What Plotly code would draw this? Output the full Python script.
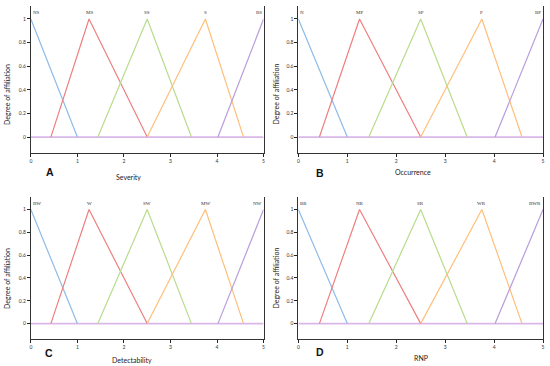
import plotly.graph_objects as go

# ---- data ----
panel_letters = ["A", "B", "C", "D"]
panel_titles = ["Severity", "Occurrence", "Detectability", "RNP"]
term_labels = [
    ["NS", "MS", "SS", "S", "BS"],
    ["N", "MP", "SP", "P", "BP"],
    ["BW", "W", "SW", "MW", "NW"],
    ["BR", "NR", "SR", "WR", "BWR"],
]
term_centers = [0, 1.25, 2.5, 3.75, 5]
# membership function breakpoints (start, peak, end)
mf_blue = [0.0, 0.0, 1.0]
mf_red = [0.43, 1.25, 2.5]
mf_green = [1.44, 2.5, 3.45]
mf_orange = [2.5, 3.75, 4.57]
mf_purple = [4.02, 5.0, 5.0]
mf_all = [mf_blue, mf_red, mf_green, mf_orange, mf_purple]
mf_colors = ["#8fbbe8", "#ef7f7f", "#b8dc8c", "#ffbf7a", "#b89ddb"]
baseline_x = [0, 5]
baseline_y = [0, 0]
x_ticks = [0, 1, 2, 3, 4, 5]
y_ticks = [0, 0.2, 0.4, 0.6, 0.8, 1]
y_tick_text = ["0", "0.2", "0.4", "0.6", "0.8", "1"]

W, H = 550, 366
# panel pixel boxes (left, right, top, bottom)
boxes = [(30, 264, 6, 153), (299, 545, 6, 153), (30, 264, 197, 339), (299, 545, 197, 339)]
ytitle_pos = [(6, 94), (277, 94), (6, 278), (277, 278)]
xtitle_pos = [(128, 177), (414, 172), (132, 360), (422, 358)]
letter_pos = [(49, 172), (321, 173), (48, 353), (321, 352)]

FONT = "Lato, Open Sans, sans-serif"
fig = go.Figure()
annotations = []

for p in range(4):
    l, r, t, b = boxes[p]
    xi = 2 * p + 1
    xb = "x" if xi == 1 else f"x{xi}"
    ya = "y" if p == 0 else f"y{p + 1}"
    fig.add_trace(go.Scatter(x=baseline_x, y=baseline_y, mode="lines", xaxis=xb, yaxis=ya,
                             line=dict(color="#d9b8e8", width=1.8), showlegend=False,
                             hoverinfo="skip"))
    for mf, col in zip(mf_all, mf_colors):
        if mf[1] == mf[0]:
            xs, ys = [mf[1], mf[2]], [1, 0]
        elif mf[1] == mf[2]:
            xs, ys = [mf[0], mf[1]], [0, 1]
        else:
            xs, ys = [mf[0], mf[1], mf[2]], [0, 1, 0]
        fig.add_trace(go.Scatter(x=xs, y=ys, mode="lines", xaxis=xb, yaxis=ya,
                                 line=dict(color=col, width=1.2), showlegend=False,
                                 hoverinfo="skip"))
    dom_x = [l / W, r / W]
    dom_y = [1 - b / H, 1 - t / H]
    bkey = "xaxis" if xi == 1 else f"xaxis{xi}"
    tkey = f"xaxis{xi + 1}"
    ykey = "yaxis" if p == 0 else f"yaxis{p + 1}"
    fig.layout[bkey] = dict(domain=dom_x, anchor=ya, range=[0, 5], tickvals=x_ticks,
                            ticks="outside", ticklen=3, tickcolor="#222", showline=True,
                            linecolor="#333", linewidth=1, showgrid=False, zeroline=False,
                            tickfont=dict(size=5, family=FONT, color="#333"))
    fig.layout[tkey] = dict(domain=dom_x, anchor=ya, overlaying=xb, side="top",
                            range=[0, 5], tickvals=term_centers, ticktext=[""] * 5,
                            ticks="outside", ticklen=3, tickcolor="#444", showline=True,
                            linecolor="#888", linewidth=1.8, showgrid=False, zeroline=False)
    fig.layout[ykey] = dict(domain=dom_y, anchor=xb, range=[-0.135, 1.11],
                            tickvals=y_ticks, ticktext=y_tick_text, ticks="outside",
                            ticklen=3, tickcolor="#222", showline=True, mirror=True,
                            linecolor="#333", linewidth=1, showgrid=False, zeroline=False,
                            tickfont=dict(size=5, family=FONT, color="#333"))
    for k, (lab, c) in enumerate(zip(term_labels[p], term_centers)):
        anchor = "left" if k == 0 else ("right" if k == 4 else "center")
        annotations.append(dict(x=c, y=1, xref=xb, yref=f"{ya} domain", text=lab,
                                showarrow=False, xanchor=anchor, yanchor="top", yshift=-2,
                                font=dict(size=5, family="Liberation Serif, serif", color="#333")))
    tx, ty = ytitle_pos[p]
    annotations.append(dict(x=tx / W, y=1 - ty / H, xref="paper", yref="paper",
                            text="Degree of affiliation", textangle=-90, showarrow=False,
                            xanchor="center", yanchor="middle",
                            font=dict(size=7, family=FONT, color="#222")))
    tx, ty = xtitle_pos[p]
    annotations.append(dict(x=tx / W, y=1 - ty / H, xref="paper", yref="paper",
                            text=panel_titles[p], showarrow=False,
                            xanchor="center", yanchor="middle",
                            font=dict(size=7, family=FONT, color="#222")))
    tx, ty = letter_pos[p]
    annotations.append(dict(x=tx / W, y=1 - ty / H, xref="paper", yref="paper",
                            text=f"<b>{panel_letters[p]}</b>", showarrow=False,
                            xanchor="center", yanchor="middle",
                            font=dict(size=10.5, family="Liberation Sans, Arial, sans-serif", color="#111")))

fig.update_layout(width=W, height=H, margin=dict(l=0, r=0, t=0, b=0),
                  paper_bgcolor="white", plot_bgcolor="white", annotations=annotations)
fig.write_html("out.html", config={"displayModeBar": False},
               post_script="document.body.style.margin='0';document.body.style.overflow='hidden';")
